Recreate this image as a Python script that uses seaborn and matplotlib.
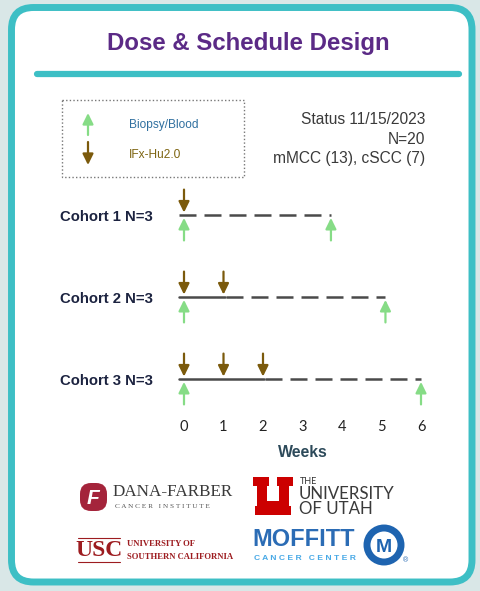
import pandas as pd
import matplotlib.pyplot as plt
import seaborn as sns
from matplotlib.patches import FancyBboxPatch, Rectangle, Polygon, Circle

# figure size in pixels (dpi 100)
W, H = 481, 591

# --- chart data ---
cohorts = ['Cohort 1 N=3', 'Cohort 2 N=3', 'Cohort 3 N=3']
dose_weeks = [[0], [0, 1], [0, 1, 2]]          # IFx-Hu2.0 doses
biopsy_weeks = [[0, 3.72], [0, 5.1], [0, 6]]   # biopsy / blood draws
treat_end = [0, 1.03, 2.03]                    # end of dosing period (solid)
follow_end = [3.72, 5.1, 6]                    # end of follow-up (dashed)
week_ticks = [0, 1, 2, 3, 4, 5, 6]
status_lines = ['Status 11/15/2023', 'N=20', 'mMCC (13), cSCC (7)']

TEAL = '#3dbfc5'
PURPLE = '#5b2a86'
BROWN = '#7b5a0c'
GREEN = '#86dc86'
LINE = '#4a4a4a'


def build_segments():
    rows = []
    seg = 0
    for i in range(len(cohorts)):
        r = i + 1
        start = -0.12
        if treat_end[i] > 0:
            rows += [dict(week=start, row=r, seg=seg, phase='dosing'),
                     dict(week=treat_end[i], row=r, seg=seg, phase='dosing')]
            seg += 1
            start = treat_end[i] + 0.03
        rows += [dict(week=start, row=r, seg=seg, phase='follow-up'),
                 dict(week=follow_end[i], row=r, seg=seg, phase='follow-up')]
        seg += 1
    return pd.DataFrame(rows)


def px(x0, y0, x1, y1):
    # pixel box -> figure fraction [left, bottom, width, height]
    return [x0 / W, 1 - y1 / H, (x1 - x0) / W, (y1 - y0) / H]


def draw_background(fig):
    bg = fig.add_axes([0, 0, 1, 1])
    bg.set_xlim(0, W)
    bg.set_ylim(H, 0)
    bg.axis('off')

    bg.add_patch(FancyBboxPatch((11.5, 7.5), 460.5, 574.5,
                                boxstyle='round,pad=0,rounding_size=22',
                                fc='white', ec=TEAL, lw=5))
    bg.text(248, 50, 'Dose & Schedule Design', ha='center', va='baseline',
            fontsize=17.3, weight='bold', color=PURPLE)
    bg.plot([37, 459], [74, 74], color=TEAL, lw=4.5, solid_capstyle='round')

    # legend box
    bg.add_patch(Rectangle((62, 100), 182, 77, fill=False, ec='#777777',
                           lw=1, ls=(0, (1, 1.6))))
    bg.annotate('', xy=(88, 113), xytext=(88, 135),
                arrowprops=dict(arrowstyle='-|>,head_length=0.65,head_width=0.32',
                                color=GREEN, lw=1.6, mutation_scale=10,
                                shrinkA=0, shrinkB=0))
    bg.annotate('', xy=(88, 165), xytext=(88, 142),
                arrowprops=dict(arrowstyle='-|>,head_length=0.65,head_width=0.32',
                                color=BROWN, lw=1.6, mutation_scale=10,
                                shrinkA=0, shrinkB=0))
    bg.text(129, 125, 'Biopsy/Blood', va='center', fontsize=8.6, color='#2f6f9f')
    bg.text(129, 155, 'IFx-Hu2.0', va='center', fontsize=8.6, color='#7d6410')

    # status
    for k, line in enumerate(status_lines):
        bg.text(425, 120 + 19 * k, line, ha='right', va='center',
                fontsize=11.2, color='#3a3a3a')

    draw_logos(bg)


def draw_logos(bg):
    # Dana-Farber
    bg.add_patch(FancyBboxPatch((80, 483), 27, 28,
                                boxstyle='round,pad=0,rounding_size=11',
                                fc='#a4243b', ec='none'))
    bg.text(93, 498, 'F', ha='center', va='center', fontsize=15, weight='bold',
            style='italic', color='white', family='Liberation Sans')
    bg.text(113, 492, 'DANA-FARBER', va='center', fontsize=12.3,
            color='#3a3a3a', family='Liberation Serif')
    bg.text(115, 507, 'C A N C E R   I N S T I T U T E', va='center',
            fontsize=5.2, color='#555555', family='Liberation Serif')

    # University of Utah block U
    u = [(253, 477), (269, 477), (269, 486), (267, 486), (267, 501),
         (279, 501), (279, 486), (277, 486), (277, 477), (293, 477),
         (293, 486), (289, 486), (289, 506), (291, 506), (291, 515),
         (255, 515), (255, 506), (257, 506), (257, 486), (253, 486)]
    bg.add_patch(Polygon(u, closed=True, fc='#cc0000', ec='none'))
    bg.text(300, 481, 'THE', va='center', fontsize=6.5, color='#333333',
            family='Lato')
    bg.text(299, 494, 'UNIVERSITY', va='center', fontsize=12.2,
            color='#3a3a3a', family='Lato')
    bg.text(299, 509, 'OF UTAH', va='center', fontsize=12.2,
            color='#3a3a3a', family='Lato')

    # USC
    bg.plot([78, 120], [538, 538], color='#9d1c20', lw=0.8)
    bg.plot([78, 120], [562, 562], color='#9d1c20', lw=0.8)
    bg.text(99, 551, 'USC', ha='center', va='center', fontsize=17,
            weight='bold', color='#9d1c20', family='Liberation Serif')
    bg.text(127, 544, 'UNIVERSITY OF', va='center', fontsize=6.2,
            weight='bold', color='#9d1c20', family='Liberation Serif')
    bg.text(127, 557, 'SOUTHERN CALIFORNIA', va='center', fontsize=6.2,
            weight='bold', color='#9d1c20', family='Liberation Serif')

    # Moffitt
    bg.text(252, 540, 'MOFFITT', va='center', fontsize=17, weight='bold',
            color='#2b6cb5')
    bg.text(254, 558, 'C A N C E R   C E N T E R', va='center', fontsize=6.1,
            weight='bold', color='#48a9e6')
    bg.add_patch(Circle((384, 545), 17, fill=False, ec='#1e64b0', lw=5))
    bg.text(384, 547, 'M', ha='center', va='center', fontsize=14,
            weight='bold', color='#1e64b0')
    bg.text(406, 561, '®', ha='center', va='center', fontsize=5,
            color='#1e64b0')


def draw_timeline(fig):
    ppw = 39.5           # pixels per week
    x0 = 184             # pixel x of week 0
    ax = fig.add_axes(px(x0 - 0.5 * ppw, 185, x0 + 6.5 * ppw, 410))
    ax.set_facecolor('none')

    df = build_segments()
    sns.lineplot(data=df, x='week', y='row', units='seg', estimator=None,
                 style='phase', dashes={'dosing': '', 'follow-up': (6.8, 3.2)},
                 color=LINE, lw=1.8, sort=False, legend=False, ax=ax)

    head = '-|>,head_length=0.65,head_width=0.32'
    for i in range(len(cohorts)):
        r = i + 1
        for w in dose_weeks[i]:
            ax.annotate('', xy=(w, r - 0.03), xytext=(w, r - 0.31),
                        arrowprops=dict(arrowstyle=head, color=BROWN, lw=1.6,
                                        mutation_scale=10, shrinkA=0, shrinkB=0))
        for w in biopsy_weeks[i]:
            ax.annotate('', xy=(w, r + 0.035), xytext=(w, r + 0.31),
                        arrowprops=dict(arrowstyle=head, color=GREEN, lw=1.6,
                                        mutation_scale=10, shrinkA=0, shrinkB=0))

    ax.set_xlim(-0.5, 6.5)
    ax.set_ylim(3.378, 0.634)
    ax.set_xticks(week_ticks)
    ax.set_xticklabels([str(w) for w in week_ticks], family='Lato',
                       fontsize=10.5, color='#222222')
    ax.set_yticks([1, 2, 3])
    ax.set_yticklabels(cohorts, fontsize=10.7, weight='bold', color='#1c2340')
    ax.tick_params(axis='x', length=0, pad=7)
    ax.tick_params(axis='y', length=0, pad=8)
    ax.set_xlabel('Weeks', fontsize=11.4, weight='bold', color='#2d4a5a',
                  labelpad=8)
    ax.set_ylabel('')
    sns.despine(ax=ax, left=True, bottom=True)


def main():
    sns.set_style('white')
    plt.rcParams['font.family'] = ['Liberation Sans', 'DejaVu Sans']

    fig = plt.figure(figsize=(W / 100, H / 100), dpi=100)
    fig.patch.set_facecolor('#d9e7e7')
    draw_background(fig)
    draw_timeline(fig)
    fig.savefig('out.png', dpi=100, facecolor=fig.get_facecolor())


if __name__ == '__main__':
    main()
